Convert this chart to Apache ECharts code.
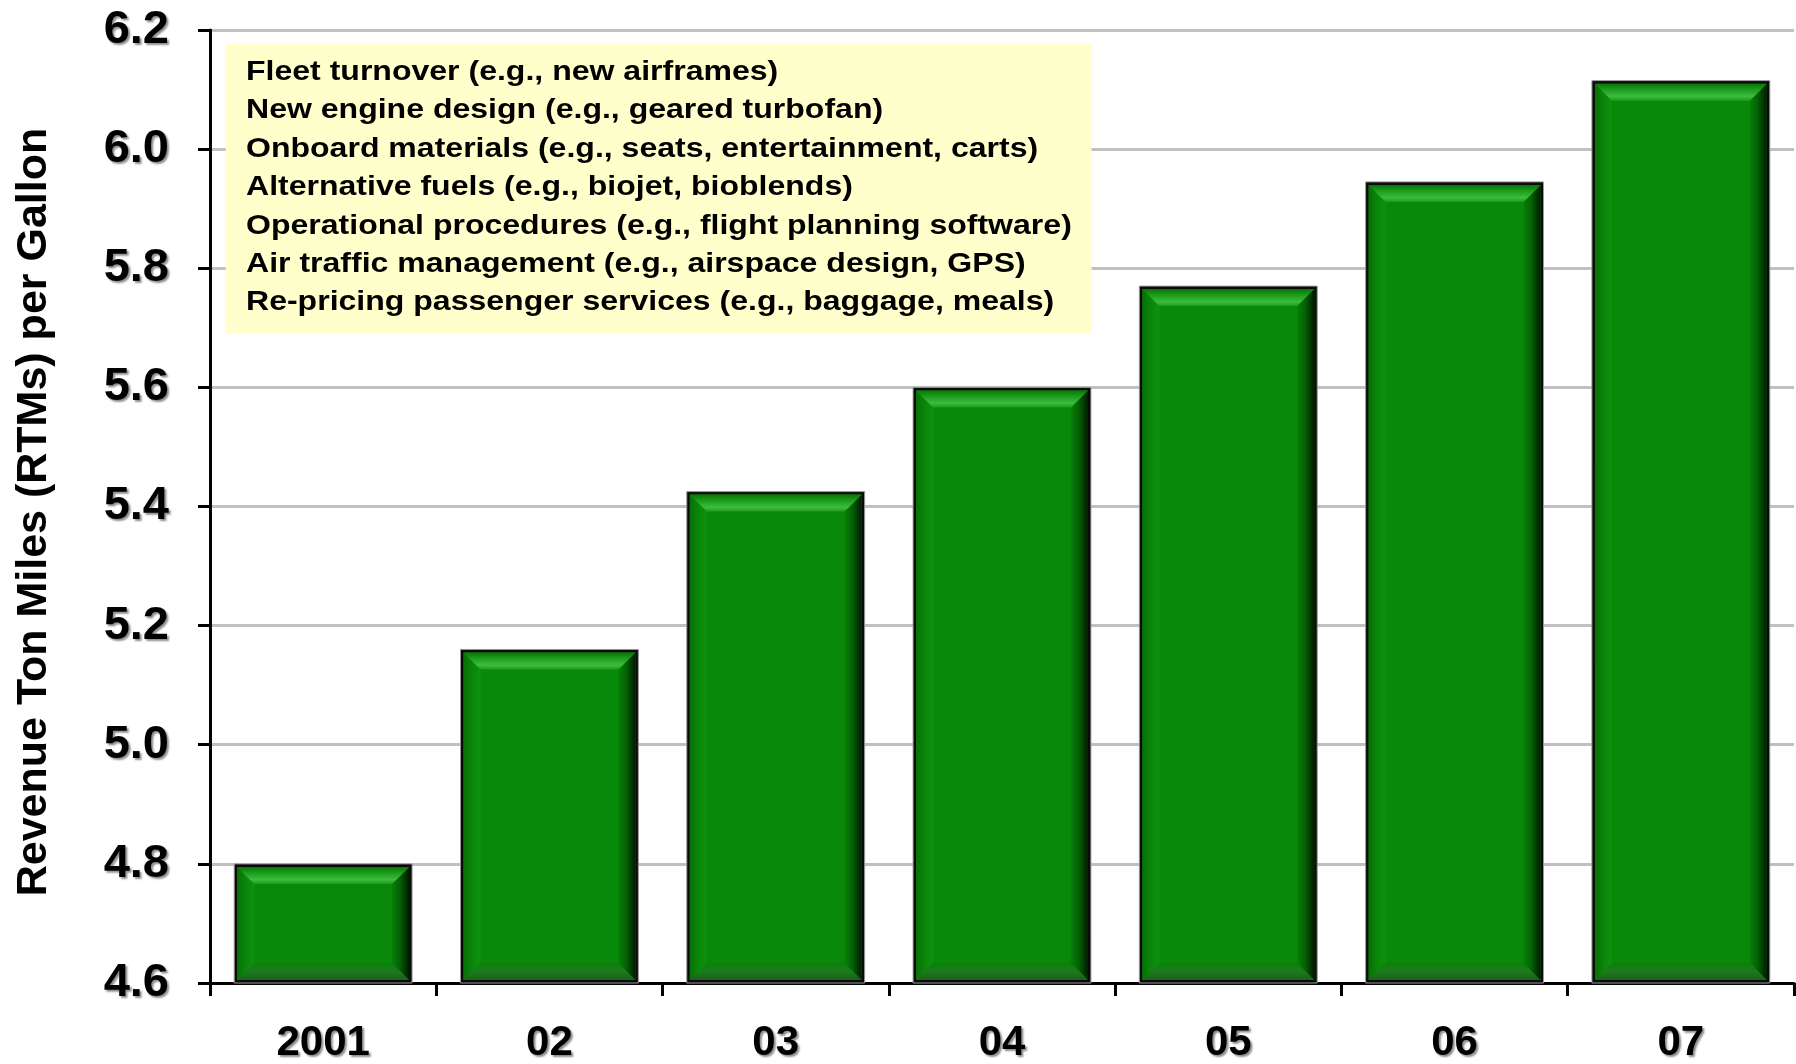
<!DOCTYPE html>
<html>
<head>
<meta charset="utf-8">
<title>Revenue Ton Miles per Gallon</title>
<script src="https://cdn.jsdelivr.net/npm/echarts@6/dist/echarts.min.js"></script>
<style>
  html, body { margin: 0; padding: 0; background: #ffffff; }
  #chart { width: 1796px; height: 1064px; }
</style>
</head>
<body>
<div id="chart"></div>
<script>
// Fuel efficiency by year: revenue ton miles per gallon
const categories = ['2001', '02', '03', '04', '05', '06', '07'];
const rtmPerGallon = [4.80, 5.16, 5.425, 5.60, 5.77, 5.945, 6.115];
const yMin = 4.6;
const yMax = 6.2;
const yStep = 0.2;
const yAxisTitle = 'Revenue Ton Miles (RTMs) per Gallon';
const initiatives = [
  'Fleet turnover (e.g., new airframes)',
  'New engine design (e.g., geared turbofan)',
  'Onboard materials (e.g., seats, entertainment, carts)',
  'Alternative fuels (e.g., biojet, bioblends)',
  'Operational procedures (e.g., flight planning software)',
  'Air traffic management (e.g., airspace design, GPS)',
  'Re-pricing passenger services (e.g., baggage, meals)'
];

const FONT = '"Liberation Sans", Arial, Helvetica, sans-serif';
const chart = echarts.init(document.getElementById('chart'), null, { renderer: 'canvas' });

// Bevelled green column: black frame, lit top edge, shaded right and bottom edges
function renderBar(params, api) {
  const idx = api.value(0);
  const val = api.value(1);
  const top = api.coord([idx, val]);
  const base = api.coord([idx, yMin]);
  const w = api.size([1, 0])[0] * 0.786;
  const x = top[0] - w / 2;
  const y = top[1];
  const h = base[1] - top[1];
  const B = 3;   // frame
  const D = 17;  // bevel depth
  const x1 = x + B, y1 = y + B, x2 = x + w - B, y2 = y + h - B;
  const lin = (x2v, y2v, stops) => ({
    type: 'linear', x: 0, y: 0, x2: x2v, y2: y2v,
    colorStops: stops.map(s => ({ offset: s[0], color: s[1] }))
  });
  return {
    type: 'group',
    children: [
      { type: 'rect', shape: { x: x, y: y, width: w, height: h },
        style: { fill: '#0a0a0a', stroke: '#9a9a9a', lineWidth: 1 } },
      { type: 'rect', shape: { x: x1, y: y1, width: x2 - x1, height: y2 - y1 },
        style: { fill: '#08890a' } },
      { type: 'polygon', shape: { points: [[x1, y1], [x1 + D, y1 + D], [x1 + D, y2 - D], [x1, y2]] },
        style: { fill: lin(1, 0, [[0, '#067006'], [0.5, '#0a860a'], [1, '#0d920d']]) } },
      { type: 'polygon', shape: { points: [[x1, y2], [x2, y2], [x2 - D, y2 - D], [x1 + D, y2 - D]] },
        style: { fill: lin(0, 1, [[0, '#0b800b'], [0.5, '#1d7a1d'], [1, '#1c5f1c']]) } },
      { type: 'polygon', shape: { points: [[x2, y1], [x2, y2], [x2 - D, y2 - D], [x2 - D, y1 + D]] },
        style: { fill: lin(1, 0, [[0, '#077f07'], [0.45, '#056205'], [1, '#001c00']]) } },
      { type: 'polygon', shape: { points: [[x1, y1], [x2, y1], [x2 - D, y1 + D], [x1 + D, y1 + D]] },
        style: { fill: lin(0, 1, [[0, '#067606'], [0.35, '#1d9c1d'], [0.75, '#3cbd3c'], [1, '#1f9a1f']]) } }
    ]
  };
}

const labelShadow = {
  textShadowColor: 'rgba(0,0,0,0.45)',
  textShadowBlur: 2,
  textShadowOffsetX: 2,
  textShadowOffsetY: 2
};

// Note box listing efficiency initiatives, drawn above the grid lines
const noteBox = [{
  type: 'rect',
  z: 100,
  shape: { x: 225.6, y: 43.5, width: 866, height: 290 },
  style: { fill: '#ffffcc' }
}].concat(initiatives.map((line, i) => ({
  type: 'text',
  z: 101,
  x: 246,
  y: 72.3 + i * 38.4,
  scaleX: 1.144,
  style: {
    text: line,
    fontFamily: FONT,
    fontWeight: 'bold',
    fontSize: 28,
    fill: '#000000',
    verticalAlign: 'middle',
    align: 'left'
  }
})));

chart.setOption({
  backgroundColor: '#ffffff',
  animation: false,
  grid: { left: 210, right: 2, top: 30, bottom: 81, containLabel: false },
  xAxis: {
    type: 'category',
    data: categories,
    boundaryGap: true,
    axisLine: { show: true, lineStyle: { color: '#000000', width: 3 } },
    axisTick: { show: true, length: 13, lineStyle: { color: '#000000', width: 3 } },
    axisLabel: {
      margin: 39,
      fontFamily: FONT,
      fontWeight: 'bold',
      fontSize: 42,
      color: '#000000',
      ...labelShadow
    },
    splitLine: { show: false }
  },
  yAxis: {
    type: 'value',
    min: yMin,
    max: yMax,
    interval: yStep,
    axisLine: { show: true, lineStyle: { color: '#000000', width: 3 } },
    axisTick: { show: true, length: 12, lineStyle: { color: '#000000', width: 3 } },
    axisLabel: {
      margin: 41,
      fontFamily: FONT,
      fontWeight: 'bold',
      fontSize: 47,
      color: '#000000',
      formatter: v => v.toFixed(1),
      ...labelShadow
    },
    splitLine: { show: true, lineStyle: { color: '#c0c0c0', width: 3 } }
  },
  series: [{
    type: 'custom',
    renderItem: renderBar,
    encode: { x: 0, y: 1 },
    data: rtmPerGallon.map((v, i) => [i, v]),
    z: 3
  }],
  graphic: {
    elements: [
      {
        type: 'text',
        x: 34,
        y: 512,
        rotation: Math.PI / 2,
        style: {
          text: yAxisTitle,
          fontFamily: FONT,
          fontWeight: 'bold',
          fontSize: 43,
          fill: '#000000',
          align: 'center',
          verticalAlign: 'middle'
        }
      }
    ].concat(noteBox)
  }
});
</script>
</body>
</html>
